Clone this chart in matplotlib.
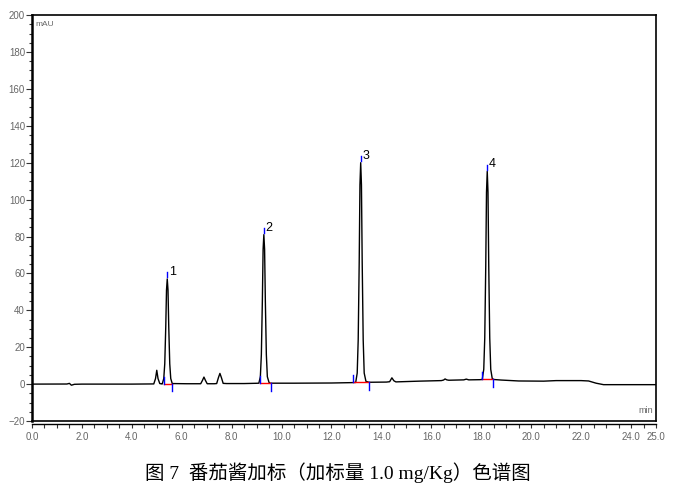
import matplotlib.pyplot as plt
from matplotlib.lines import Line2D
from matplotlib.ticker import MultipleLocator, FixedLocator

# trace of the chromatogram (min, mAU)
t = [0.0, 1.4, 1.5, 1.58, 1.7, 2.0, 4.0, 4.88, 4.95, 5.0, 5.05, 5.12, 5.2,
     5.22, 5.28, 5.32, 5.36, 5.39, 5.42, 5.45, 5.48, 5.52, 5.56, 5.62,
     6.2, 6.76, 6.83, 6.89, 6.95, 7.02, 7.3, 7.4, 7.47, 7.53, 7.59, 7.66, 7.8,
     8.5, 9.0, 9.09, 9.15, 9.19, 9.23, 9.26, 9.29, 9.32, 9.35, 9.39, 9.43, 9.5, 9.55,
     10.5, 12.0, 12.8, 12.97, 13.03, 13.07, 13.11, 13.14, 13.17, 13.20, 13.23, 13.27,
     13.31, 13.38, 13.5,
     14.2, 14.33, 14.42, 14.5, 14.58, 15.5, 16.4, 16.49, 16.55, 16.62, 16.7,
     17.3, 17.4, 17.5, 17.95,
     18.04, 18.10, 18.14, 18.18, 18.21, 18.24, 18.27, 18.30, 18.34, 18.38, 18.44, 18.5,
     18.8, 19.5, 20.5, 21.0, 22.0, 22.3, 22.6, 22.9, 25.0]
mau = [0.0, 0.05, 0.4, -0.6, -0.1, 0.0, 0.0, 0.1, 3.0, 7.5, 3.0, 0.3, 0.1,
       0.1, 3.0, 11.0, 31.0, 51.0, 57.0, 51.0, 31.0, 11.0, 3.0, 0.3,
       0.2, 0.2, 2.0, 3.8, 2.0, 0.2, 0.2, 0.3, 3.5, 5.8, 3.5, 0.4, 0.3,
       0.3, 0.45, 0.5, 4.0, 16.0, 45.0, 73.0, 81.0, 73.0, 45.0, 16.0, 4.0, 0.8, 0.5,
       0.5, 0.6, 0.8, 0.9, 6.0, 24.0, 66.0, 108.0, 120.0, 108.0, 66.0, 24.0,
       6.0, 1.5, 1.0,
       1.1, 1.3, 3.4, 1.8, 1.2, 1.6, 1.9, 2.2, 2.8, 2.3, 2.1,
       2.3, 2.7, 2.3, 2.4,
       2.5, 8.0, 25.0, 64.0, 104.0, 115.3, 104.0, 64.0, 25.0, 8.0, 3.0, 2.5,
       2.2, 1.7, 1.6, 1.9, 1.9, 1.7, 0.5, -0.3, -0.3]

# integrated peaks: number, apex time, apex height, start, end, baseline level
peak_no = ['1', '2', '3', '4']
peak_rt = [5.42, 9.29, 13.17, 18.24]
peak_h = [57.0, 81.0, 120.0, 115.3]
peak_start = [5.27, 9.12, 12.88, 18.03]
peak_end = [5.60, 9.58, 13.51, 18.48]
peak_base = [0.05, 0.45, 0.9, 2.5]

xticks = [0, 2, 4, 6, 8, 10, 12, 14, 16, 18, 20, 22, 24, 25]

plt.rcParams['font.family'] = ['Liberation Sans Narrow', 'Liberation Sans', 'DejaVu Sans']

fig = plt.figure(figsize=(6.98, 5.03), dpi=100)
ax = fig.add_axes([0.0458, 0.163, 0.894, 0.807])

ax.plot(t, mau, color='black', lw=1.0)

for no, rt, h, s, e, b in zip(peak_no, peak_rt, peak_h, peak_start, peak_end, peak_base):
    ax.plot([s, e], [b, b], color='red', lw=1.0)
    ax.plot([s, s], [b, b + 4], color='blue', lw=1.0)
    ax.plot([e, e], [b, b - 4], color='blue', lw=1.0)
    ax.plot([rt, rt], [h + 1, h + 3.5], color='blue', lw=1.0)
    ax.text(rt + 0.07, h + 0.5, no, fontsize=9, color='black',
            family=['Liberation Sans', 'DejaVu Sans'], ha='left', va='bottom')

ax.set_xlim(0, 25)
ax.set_ylim(-20, 200)
ax.xaxis.set_major_locator(FixedLocator(xticks))
ax.set_xticklabels(['%.1f' % v for v in xticks])
ax.xaxis.set_minor_locator(MultipleLocator(0.5))
ax.yaxis.set_major_locator(MultipleLocator(20))
ax.yaxis.set_minor_locator(MultipleLocator(5))

ax.tick_params(axis='both', which='both', direction='out', color='#333333',
               labelsize=7, labelcolor='#666666', width=0.8)
ax.tick_params(axis='y', which='major', length=4, pad=1)
ax.tick_params(axis='y', which='minor', length=2)
ax.tick_params(axis='x', which='both', length=3, pad=3)

for side in ['top', 'right']:
    ax.spines[side].set_linewidth(1.2)
ax.spines['left'].set_linewidth(1.8)
ax.spines['bottom'].set_position(('outward', 2))
ax.spines['bottom'].set_linewidth(1.0)
ax.add_line(Line2D([0, 1], [0, 0], transform=ax.transAxes, color='black',
                   lw=1.2, clip_on=False))

ax.text(0.005, 0.985, 'mAU', transform=ax.transAxes, fontsize=6,
        color='#666666', ha='left', va='top')
ax.text(0.995, 0.015, 'min', transform=ax.transAxes, fontsize=6.5,
        color='#666666', ha='right', va='bottom')

fig.text(0.484, 0.06, '图 7  番茄酱加标（加标量 1.0 mg/Kg）色谱图', fontsize=14,
         family=['Liberation Serif', 'Noto Sans CJK SC'], ha='center', va='center')

fig.savefig('out.png', dpi=100)
